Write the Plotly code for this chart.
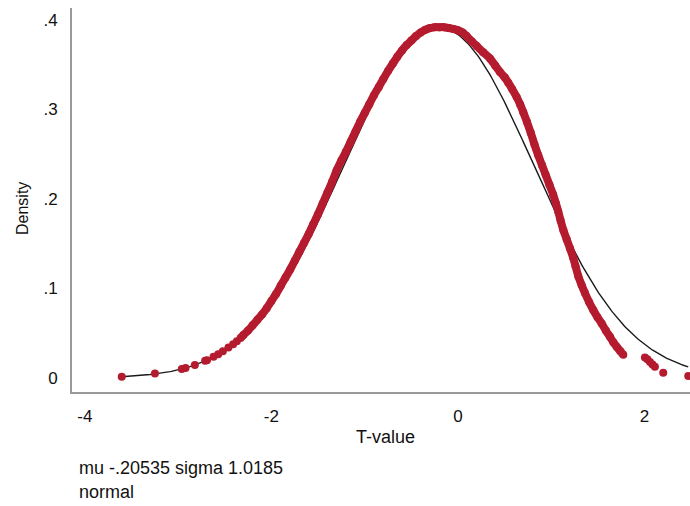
import numpy as np
import plotly.graph_objects as go

kd_x = [-3.604, -3.248, -2.96, -2.92, -2.82, -2.71, -2.69, -2.62, -2.57, -2.52,
        -2.46, -2.41, -2.37, -2.33, -2.30, -2.25, -2.20, -2.15, -2.10, -2.05,
        -2.00, -1.95, -1.90, -1.85, -1.80, -1.75, -1.70, -1.65, -1.60, -1.55,
        -1.50, -1.45, -1.40, -1.35, -1.30, -1.25, -1.20, -1.15, -1.10, -1.05,
        -1.00, -0.95, -0.90, -0.85, -0.80, -0.75, -0.70, -0.65, -0.60, -0.55,
        -0.50, -0.45, -0.40, -0.35, -0.30, -0.25, -0.20, -0.15, -0.10, -0.05,
        0.00, 0.05, 0.093, 0.15, 0.20, 0.27, 0.343, 0.40, 0.45, 0.50,
        0.539, 0.58, 0.629, 0.665, 0.70, 0.74, 0.78, 0.82, 0.86, 0.90,
        0.94, 0.98, 1.02, 1.05, 1.075, 1.10, 1.13, 1.165, 1.20, 1.236,
        1.26, 1.289, 1.325, 1.361, 1.405, 1.45, 1.495, 1.54, 1.585, 1.629,
        1.665, 1.701, 1.74, 1.772,
        2.004, 2.03, 2.058, 2.085, 2.111, 2.20, 2.468]
kd_y = [0.0015, 0.0050, 0.0100, 0.0112, 0.0147, 0.0192, 0.0200, 0.0237, 0.0266, 0.0298,
        0.0340, 0.0378, 0.0412, 0.0446, 0.048, 0.053, 0.059, 0.065, 0.071, 0.078,
        0.086, 0.094, 0.103, 0.112, 0.121, 0.131, 0.141, 0.151, 0.161, 0.172,
        0.183, 0.195, 0.207, 0.219, 0.232, 0.243, 0.253, 0.264, 0.275, 0.286,
        0.296, 0.306, 0.316, 0.325, 0.334, 0.343, 0.351, 0.359, 0.366, 0.372,
        0.377, 0.382, 0.386, 0.389, 0.391, 0.392, 0.392, 0.392, 0.391, 0.390,
        0.3885, 0.386, 0.382, 0.376, 0.371, 0.364, 0.357, 0.349, 0.342, 0.336,
        0.330, 0.323, 0.314, 0.306, 0.297, 0.286, 0.274, 0.261, 0.249, 0.238,
        0.227, 0.216, 0.205, 0.195, 0.186, 0.176, 0.165, 0.155, 0.145, 0.134,
        0.125, 0.114, 0.104, 0.095, 0.085, 0.076, 0.068, 0.061, 0.053, 0.046,
        0.040, 0.035, 0.030, 0.026,
        0.023, 0.021, 0.018, 0.015, 0.0126, 0.006, 0.0022]

# Normal overlay parameters (stated in the chart note)
mu = -0.20535
sigma = 1.0185

x_ticks = [-4, -2, 0, 2]
x_tick_labels = ["-4", "-2", "0", "2"]
y_ticks = [0, 0.1, 0.2, 0.3, 0.4]
y_tick_labels = ["0", ".1", ".2", ".3", ".4"]

RED = "#B51B2E"
FONT = "Liberation Sans, Arial, sans-serif"

xs = np.linspace(min(kd_x), max(kd_x), 400)
normal_y = np.exp(-0.5 * ((xs - mu) / sigma) ** 2) / (sigma * np.sqrt(2 * np.pi))

kx = np.array(kd_x)
ky = np.array(kd_y)
dense = (kx >= -2.34) & (kx <= 1.78)

fig = go.Figure()
fig.add_trace(go.Scatter(x=xs, y=normal_y, mode="lines",
                         line=dict(color="#1a1a1a", width=1.4),
                         hoverinfo="skip", showlegend=False))
fig.add_trace(go.Scatter(x=kx[dense], y=ky[dense], mode="lines",
                         line=dict(color=RED, width=8, shape="spline", smoothing=0.8),
                         hoverinfo="skip", showlegend=False))
fig.add_trace(go.Scatter(x=kx, y=ky, mode="markers",
                         marker=dict(color=RED, size=8, line=dict(width=0)),
                         showlegend=False))

fig.update_layout(
    width=690, height=506,
    margin=dict(l=72, r=0, t=8, b=114, autoexpand=False),
    paper_bgcolor="white", plot_bgcolor="white",
    font=dict(family=FONT, size=17, color="#111111"),
    showlegend=False,
)
fig.update_xaxes(range=[-4.137, 2.487], tickvals=x_ticks, ticktext=x_tick_labels,
                 showgrid=False, zeroline=False, showline=True, automargin=False,
                 linecolor="#9a9a9a", linewidth=1.6, ticks="",
                 ticklabelstandoff=8, tickfont=dict(size=17))
fig.update_yaxes(range=[-0.0156, 0.4134], tickvals=y_ticks, ticktext=y_tick_labels,
                 showgrid=False, zeroline=False, showline=True, automargin=False,
                 linecolor="#9a9a9a", linewidth=1.6, ticks="",
                 ticklabelstandoff=9, tickfont=dict(size=17))

fig.add_annotation(text="Density", xref="paper", yref="paper", x=-0.081, y=0.479,
                   textangle=-90, showarrow=False, font=dict(size=16),
                   xanchor="center", yanchor="middle")
fig.add_annotation(text="T-value", xref="paper", yref="paper", x=0.5065, y=-0.117,
                   showarrow=False, font=dict(size=18),
                   xanchor="center", yanchor="middle")
fig.add_annotation(text="mu -.20535 sigma 1.0185", xref="paper", yref="paper",
                   x=0.008, y=-0.198, showarrow=False, font=dict(size=18),
                   xanchor="left", yanchor="middle")
fig.add_annotation(text="normal", xref="paper", yref="paper",
                   x=0.008, y=-0.260, showarrow=False, font=dict(size=18),
                   xanchor="left", yanchor="middle")

fig.write_html("out.html",
               config={"displayModeBar": False},
               post_script="document.body.style.margin='0px';"
                           "document.body.style.overflow='hidden';")
